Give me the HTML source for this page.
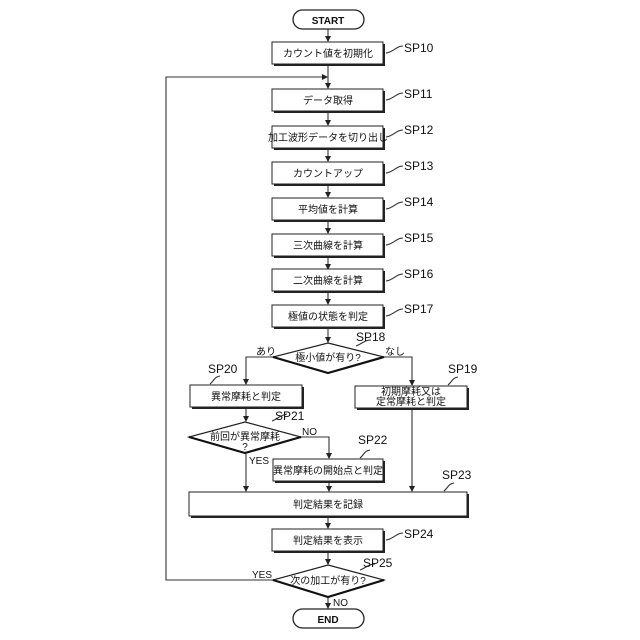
<!DOCTYPE html>
<html><head><meta charset="utf-8"><style>
html,body{margin:0;padding:0;background:#fff}
svg{display:block}
text{font-family:"Liberation Sans","Noto Sans CJK JP",sans-serif;fill:#111}
.b{font-size:10px;text-anchor:middle}
.l{font-size:12px}
</style></head><body>
<svg width="640" height="640" viewBox="0 0 640 640" xmlns="http://www.w3.org/2000/svg">
<defs>
<marker id="a" markerWidth="6" markerHeight="6" refX="5" refY="3" orient="auto" markerUnits="userSpaceOnUse"><path d="M0,0 L6,3 L0,6 z" fill="#222"/></marker>
</defs>
<g stroke="#333" stroke-width="1.1" fill="none">
<!-- main vertical connectors -->
<line x1="328" y1="29" x2="328" y2="41" marker-end="url(#a)"/>
<line x1="328" y1="65" x2="328" y2="88" marker-end="url(#a)"/>
<line x1="328" y1="112" x2="328" y2="125" marker-end="url(#a)"/>
<line x1="328" y1="149" x2="328" y2="161" marker-end="url(#a)"/>
<line x1="328" y1="185" x2="328" y2="197" marker-end="url(#a)"/>
<line x1="328" y1="221" x2="328" y2="233" marker-end="url(#a)"/>
<line x1="328" y1="257" x2="328" y2="269" marker-end="url(#a)"/>
<line x1="328" y1="292" x2="328" y2="304" marker-end="url(#a)"/>
<line x1="328" y1="328" x2="328" y2="342" marker-end="url(#a)"/>
<!-- loop -->
<polyline points="273,580 166,580 166,77 327,77" marker-end="url(#a)"/>
<!-- SP18 branches -->
<polyline points="273,357 246,357 246,384" marker-end="url(#a)"/>
<polyline points="384,357 412,357 412,385" marker-end="url(#a)"/>
<line x1="246" y1="408" x2="246" y2="421" marker-end="url(#a)"/>
<polyline points="301,437 329,437 329,458" marker-end="url(#a)"/>
<line x1="246" y1="454" x2="246" y2="491" marker-end="url(#a)"/>
<line x1="329" y1="482" x2="329" y2="491" marker-end="url(#a)"/>
<line x1="412" y1="409" x2="412" y2="491" marker-end="url(#a)"/>
<line x1="328" y1="517" x2="328" y2="528" marker-end="url(#a)"/>
<line x1="328" y1="552" x2="328" y2="564" marker-end="url(#a)"/>
<line x1="328" y1="597" x2="328" y2="608" marker-end="url(#a)"/>
<!-- leaders -->
<path d="M386,53 C394,52 396,46 403,46"/>
<path d="M386,100 C394,99 396,93 403,93"/>
<path d="M386,137 C394,136 396,130 403,130"/>
<path d="M386,173 C394,172 396,166 403,166"/>
<path d="M386,209 C394,208 396,202 403,202"/>
<path d="M386,245 C394,244 396,238 403,238"/>
<path d="M386,281 C394,280 396,274 403,274"/>
<path d="M386,316 C394,315 396,309 403,309"/>
<path d="M356,346 C362,344 364,340 371,340"/>
<path d="M448,385 C452,382 452,378 458,377"/>
<path d="M210,384 C214,381 214,377 220,376"/>
<path d="M272,421 C278,419 280,415 287,414"/>
<path d="M360,458 C364,455 364,451 370,450"/>
<path d="M444,491 C448,488 448,484 454,483"/>
<path d="M386,540 C394,539 396,533 403,533"/>
<path d="M360,570 C366,568 368,564 375,564"/>
</g>
<!-- pills -->
<g stroke="#222" fill="#fff">
<rect x="293" y="10" width="71" height="19" rx="9.5" stroke-width="1.3"/>
<rect x="293" y="609" width="71" height="19" rx="9.5" stroke-width="1.3"/>
</g>
<!-- boxes with shadow -->
<g fill="#fff" stroke="#222" stroke-width="1.1">
<g id="bx">
</g>
</g>
<g>
<!-- shadow rects -->
<g fill="#222">
<rect x="274" y="44" width="111" height="22"/>
<rect x="274" y="91" width="111" height="22"/>
<rect x="274" y="128" width="111" height="22"/>
<rect x="274" y="164" width="111" height="22"/>
<rect x="274" y="200" width="111" height="22"/>
<rect x="274" y="236" width="111" height="22"/>
<rect x="274" y="271" width="111" height="22"/>
<rect x="274" y="307" width="111" height="22"/>
<rect x="192" y="387" width="112" height="22"/>
<rect x="357" y="388" width="112" height="22"/>
<rect x="275" y="461" width="110" height="22"/>
<rect x="191" y="494" width="278" height="24"/>
<rect x="274" y="531" width="111" height="22"/>
</g>
<g fill="#fff" stroke="#222" stroke-width="1">
<rect x="272" y="42" width="111" height="22"/>
<rect x="272" y="89" width="111" height="22"/>
<rect x="272" y="126" width="111" height="22"/>
<rect x="272" y="162" width="111" height="22"/>
<rect x="272" y="198" width="111" height="22"/>
<rect x="272" y="234" width="111" height="22"/>
<rect x="272" y="269" width="111" height="22"/>
<rect x="272" y="305" width="111" height="22"/>
<rect x="190" y="385" width="112" height="22"/>
<rect x="355" y="386" width="112" height="22"/>
<rect x="273" y="459" width="110" height="22"/>
<rect x="189" y="492" width="278" height="24"/>
<rect x="272" y="529" width="111" height="22"/>
</g>
<!-- diamonds -->
<g fill="#fff" stroke="#222" stroke-width="1.2">
<polygon points="328,343 384,357 328,373 273,357"/>
<polygon points="245,422 301,437 245,453 189,437"/>
<polygon points="328,565 384,580 328,597 273,580"/>
</g>
<g fill="none" stroke="#111" stroke-width="2.2">
<polyline points="384,357 328,373 273,357"/>
<polyline points="301,437 245,453 189,437"/>
<polyline points="384,580 328,597 273,580"/>
</g>
</g>
<!-- text -->
<text class="b" x="328" y="24" font-weight="bold">START</text>
<text class="b" x="328" y="623" font-weight="bold">END</text>
<text class="b" x="328" y="57">カウント値を初期化</text>
<text class="b" x="328" y="104">データ取得</text>
<text class="b" x="328" y="141">加工波形データを切り出し</text>
<text class="b" x="328" y="177">カウントアップ</text>
<text class="b" x="328" y="213">平均値を計算</text>
<text class="b" x="328" y="249">三次曲線を計算</text>
<text class="b" x="328" y="284">二次曲線を計算</text>
<text class="b" x="328" y="320">極値の状態を判定</text>
<text class="b" x="328" y="361">極小値が有り?</text>
<text class="b" x="246" y="400">異常摩耗と判定</text>
<text class="b" x="411" y="395">初期摩耗又は</text>
<text class="b" x="411" y="405">定常摩耗と判定</text>
<text class="b" x="245" y="440">前回が異常摩耗</text>
<text class="b" x="245" y="450">?</text>
<text class="b" x="328" y="474">異常摩耗の開始点と判定</text>
<text class="b" x="328" y="508">判定結果を記録</text>
<text class="b" x="328" y="544">判定結果を表示</text>
<text class="b" x="328" y="584">次の加工が有り?</text>
<text x="256" y="355" font-size="10">あり</text>
<text x="385" y="355" font-size="10">なし</text>
<text x="302" y="435" font-size="10">NO</text>
<text x="249" y="464" font-size="10">YES</text>
<text x="252" y="578" font-size="10">YES</text>
<text x="333" y="606" font-size="10">NO</text>
<text class="l" x="404" y="52">SP10</text>
<text class="l" x="404" y="98">SP11</text>
<text class="l" x="404" y="134">SP12</text>
<text class="l" x="404" y="170">SP13</text>
<text class="l" x="404" y="206">SP14</text>
<text class="l" x="404" y="242">SP15</text>
<text class="l" x="404" y="278">SP16</text>
<text class="l" x="404" y="313">SP17</text>
<text class="l" x="356" y="341">SP18</text>
<text class="l" x="448" y="373">SP19</text>
<text class="l" x="208" y="373">SP20</text>
<text class="l" x="275" y="420">SP21</text>
<text class="l" x="358" y="444">SP22</text>
<text class="l" x="442" y="479">SP23</text>
<text class="l" x="404" y="538">SP24</text>
<text class="l" x="363" y="567">SP25</text>
</svg>
</body></html>
